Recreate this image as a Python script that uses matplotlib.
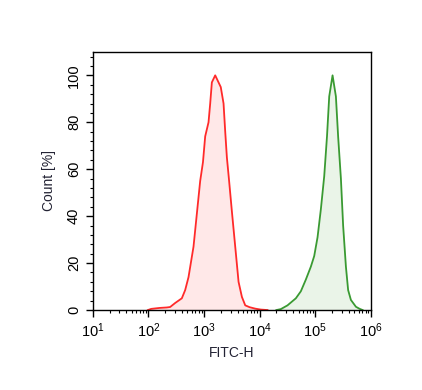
import numpy as np
import matplotlib
matplotlib.use('Agg')
import matplotlib.pyplot as plt
from matplotlib.ticker import LogLocator, MultipleLocator

# Datos (posición en log10 de FITC-H, conteo en %)
red_log = [1.99, 2.05, 2.20, 2.33, 2.39, 2.48, 2.60, 2.66, 2.72, 2.81, 2.87, 2.93, 2.98,
           3.02, 3.08, 3.11, 3.14, 3.20, 3.26, 3.30, 3.35, 3.38, 3.41, 3.45, 3.50,
           3.54, 3.58, 3.62, 3.68, 3.74, 3.82, 3.92, 4.02, 4.14]
red_val = [0.0, 0.5, 0.9, 1.1, 1.3, 3.0, 5.0, 8.5, 14, 27, 41, 55, 63,
           74, 80, 88, 97, 100, 97, 95, 88, 76, 65, 55, 42,
           32, 22, 12, 5.6, 2.0, 1.2, 0.6, 0.2, 0.0]

green_log = [4.30, 4.38, 4.50, 4.65, 4.74, 4.83, 4.92, 4.98, 5.04, 5.10, 5.16, 5.21,
             5.25, 5.31, 5.37, 5.41, 5.46, 5.50, 5.55, 5.59, 5.64, 5.73, 5.79, 5.85]
green_val = [0.0, 0.4, 2.0, 5.0, 8.0, 13, 18.5, 23, 31, 43, 57, 74,
             91, 100, 91, 74, 56, 36, 18.5, 8.5, 4.3, 1.4, 0.6, 0.0]

plt.rcParams['font.family'] = ['Liberation Sans', 'DejaVu Sans']
plt.rcParams['mathtext.fontset'] = 'custom'
plt.rcParams['mathtext.rm'] = 'Liberation Sans'
plt.rcParams['mathtext.it'] = 'Liberation Sans'
plt.rcParams['mathtext.default'] = 'regular'

fig = plt.figure(figsize=(4.22, 3.90), dpi=100)
ax = fig.add_axes([0.220, 0.205, 0.659, 0.662])

xr = 10 ** np.array(red_log)
xg = 10 ** np.array(green_log)
ax.fill_between(xr, red_val, color='#ffe8e8', lw=0)
ax.plot(xr, red_val, color='#ff2a2a', lw=1.3)
ax.fill_between(xg, green_val, color='#eaf4e8', lw=0)
ax.plot(xg, green_val, color='#3a9a32', lw=1.3)

ax.set_xscale('log')
ax.set_xlim(10, 1e6)
ax.set_ylim(0, 110)
ax.xaxis.set_major_locator(LogLocator(base=10, numticks=10))
ax.xaxis.set_minor_locator(LogLocator(base=10, subs=np.arange(2, 10), numticks=10))
ax.yaxis.set_major_locator(MultipleLocator(20))
ax.yaxis.set_minor_locator(MultipleLocator(4))
ax.tick_params(which='major', length=5, width=1, labelsize=10.5)
ax.tick_params(which='minor', length=2.5, width=0.8)
for lbl in ax.get_yticklabels():
    lbl.set_rotation(90)
    lbl.set_va('center')
for s in ax.spines.values():
    s.set_linewidth(1)

ax.set_xlabel('FITC-H', fontsize=10, color='#222233')
ax.set_ylabel('Count [%]', fontsize=10, color='#222233', labelpad=8)

fig.savefig('out.png', dpi=100)
